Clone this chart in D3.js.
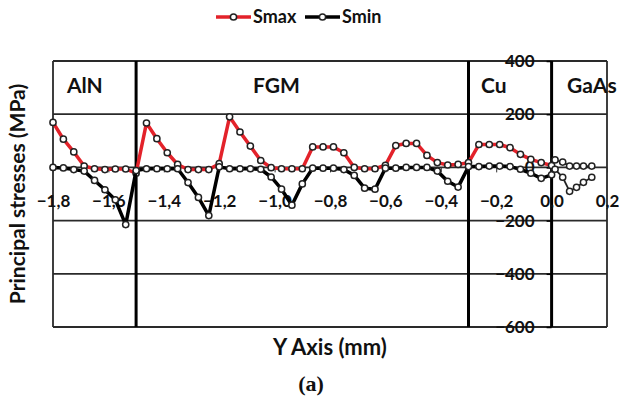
<!DOCTYPE html>
<html>
<head>
<meta charset="utf-8">
<script src="https://cdn.jsdelivr.net/npm/d3@7"></script>
<style>
  body { margin: 0; background: #fff; }
  text { font-family: Lato, "Open Sans", sans-serif; font-weight: bold; fill: #111; }
</style>
</head>
<body>
<div class="chart"></div>
<script>
// position along the specimen (mm)
const yPos = [
  -1.8, -1.7625, -1.725, -1.6875, -1.65, -1.6125, -1.575, -1.5375, -1.5,
  -1.4625, -1.425, -1.3875, -1.35, -1.3125, -1.275, -1.2375, -1.2,
  -1.1625, -1.125, -1.0875, -1.05, -1.0125, -0.975, -0.9375, -0.9,
  -0.8625, -0.825, -0.7875, -0.75, -0.7125, -0.675, -0.6375, -0.6,
  -0.5625, -0.525, -0.4875, -0.45, -0.4125, -0.375, -0.3375, -0.3,
  -0.2625, -0.225, -0.1875, -0.15, -0.1125, -0.075, -0.0375, 0,
  0.0125, 0.04, 0.065, 0.09, 0.115, 0.145
];

const smax = [
  169, 106, 58, 5, -5, -8, -6, -6, -22,
  167, 108, 55, 11, -8, -8, -8, 14,
  190, 133, 80, 26, -1, -5, -5, -5,
  77, 77, 77, 55, 0, -5, -5, 8,
  82, 90, 90, 45, 18, 9, 11, 18,
  86, 86, 86, 74, 49, 30, 18, 7,
  28, 20, 5, 5, 5, 5
];

const smin = [
  0, -2, -8, -14, -49, -84, -122, -215, -12,
  -5, -5, -5, -5, -57, -113, -181, 2,
  -5, -5, -5, -7, -36, -82, -142, -62,
  -3, -3, -3, -8, -30, -78, -82, -3,
  -3, 0, 0, 0, -14, -52, -74, 3,
  3, 5, 5, 3, -7, -22, -41, -28,
  -7, -37, -90, -75, -56, -37
];

const xTicks = [-1.8, -1.6, -1.4, -1.2, -1.0, -0.8, -0.6, -0.4, -0.2, 0, 0.2];
const yTicks = [-600, -400, -200, 0, 200, 400];

// material zones and the boundaries between them
const zones = ["AlN", "FGM", "Cu", "GaAs"];
const zoneBounds = [-1.5, -0.3, 0];

const width = 619, height = 401;
const margin = { top: 61, right: 12, bottom: 74, left: 53 };

const svg = d3.select(".chart").append("svg")
  .attr("width", width)
  .attr("height", height);

const x = d3.scaleLinear().domain([-1.8, 0.2]).range([margin.left, width - margin.right]);
const y = d3.scaleLinear().domain([-600, 400]).range([height - margin.bottom, margin.top]);

const fmt = d => d3.format(".1f")(d).replace(".", ",");

// horizontal grid
svg.append("g")
  .selectAll("line")
  .data(yTicks)
  .join("line")
  .attr("x1", x.range()[0])
  .attr("x2", x.range()[1])
  .attr("y1", d => y(d))
  .attr("y2", d => y(d))
  .attr("stroke", "#2a2a2a")
  .attr("stroke-width", 1.8);

// plot frame sides
svg.append("g")
  .selectAll("line")
  .data(x.domain())
  .join("line")
  .attr("x1", d => x(d))
  .attr("x2", d => x(d))
  .attr("y1", y(400))
  .attr("y2", y(-600))
  .attr("stroke", "#2a2a2a")
  .attr("stroke-width", 1.8);

// zone boundaries
svg.append("g")
  .selectAll("line")
  .data(zoneBounds)
  .join("line")
  .attr("x1", d => x(d))
  .attr("x2", d => x(d))
  .attr("y1", y(400))
  .attr("y2", y(-600))
  .attr("stroke", "#000")
  .attr("stroke-width", 3);

// zone labels
const zoneX = [67, 253, 481, 567];
svg.append("g")
  .selectAll("text")
  .data(zones)
  .join("text")
  .attr("x", (d, i) => zoneX[i])
  .attr("y", 93)
  .attr("font-size", 21)
  .text(d => d);

// y axis at x = 0
const yAxis = svg.append("g")
  .attr("transform", `translate(${x(0)},0)`)
  .call(d3.axisLeft(y).tickValues(yTicks).tickSize(5).tickPadding(12).tickFormat(d3.format("d")));
yAxis.select(".domain").remove();
yAxis.selectAll(".tick line").attr("stroke", "#000").attr("stroke-width", 1.5);
yAxis.selectAll("text")
  .attr("font-size", 17)
  .attr("font-family", "Lato, sans-serif")
  .attr("font-weight", "bold")
  .attr("fill", "#111");

// x axis at y = 0
const xAxis = svg.append("g")
  .attr("transform", `translate(0,${y(0)})`)
  .call(d3.axisBottom(x).tickValues(xTicks).tickSize(5).tickPadding(23).tickFormat(fmt));
xAxis.select(".domain").remove();
xAxis.selectAll(".tick line").attr("stroke", "#333").attr("stroke-width", 1);
xAxis.selectAll("text")
  .attr("font-size", 17)
  .attr("font-family", "Lato, sans-serif")
  .attr("font-weight", "bold")
  .attr("fill", "#111");

// series
const series = [
  { name: "Smax", values: smax, color: "#e3222a" },
  { name: "Smin", values: smin, color: "#000" }
];

const line = d3.line()
  .x(d => x(d[0]))
  .y(d => y(d[1]));

// index where the GaAs substrate begins (x = 0); drawn thinner there
const split = yPos.indexOf(0);

series.forEach(s => {
  const pts = yPos.map((p, i) => [p, s.values[i]]);
  svg.append("path")
    .datum(pts.slice(0, split + 1))
    .attr("fill", "none")
    .attr("stroke", s.color)
    .attr("stroke-width", 3.5)
    .attr("stroke-linejoin", "round")
    .attr("d", line);
  svg.append("path")
    .datum(pts.slice(split))
    .attr("fill", "none")
    .attr("stroke", "#222")
    .attr("stroke-width", 1.8)
    .attr("d", line);
  svg.append("g")
    .selectAll("circle")
    .data(pts)
    .join("circle")
    .attr("cx", d => x(d[0]))
    .attr("cy", d => y(d[1]))
    .attr("r", 3.1)
    .attr("fill", "#fff")
    .attr("stroke", "#222")
    .attr("stroke-width", 1.5);
});

// legend
const legend = svg.append("g").attr("transform", "translate(216,17)");
const legendX = [0, 89];
series.forEach((s, i) => {
  const g = legend.append("g").attr("transform", `translate(${legendX[i]},0)`);
  g.append("line")
    .attr("x1", 0).attr("x2", 35)
    .attr("stroke", s.color).attr("stroke-width", 3.5);
  g.append("circle")
    .attr("cx", 17.5).attr("r", 3.1)
    .attr("fill", "#fff").attr("stroke", "#222").attr("stroke-width", 1.5);
  g.append("text")
    .attr("x", 37).attr("dy", "0.35em")
    .attr("font-size", 18)
    .text(s.name);
});

// axis titles
svg.append("text")
  .attr("x", (x.range()[0] + x.range()[1]) / 2)
  .attr("y", 355)
  .attr("text-anchor", "middle")
  .attr("font-size", 22)
  .text("Y Axis (mm)");

svg.append("text")
  .attr("transform", `translate(25,${(y(400) + y(-600)) / 2}) rotate(-90)`)
  .attr("text-anchor", "middle")
  .attr("font-size", 21)
  .text("Principal stresses (MPa)");

svg.append("text")
  .attr("x", 311)
  .attr("y", 391)
  .attr("text-anchor", "middle")
  .attr("font-size", 22)
  .style("font-family", "'Liberation Serif', serif")
  .text("(a)");
</script>
</body>
</html>
